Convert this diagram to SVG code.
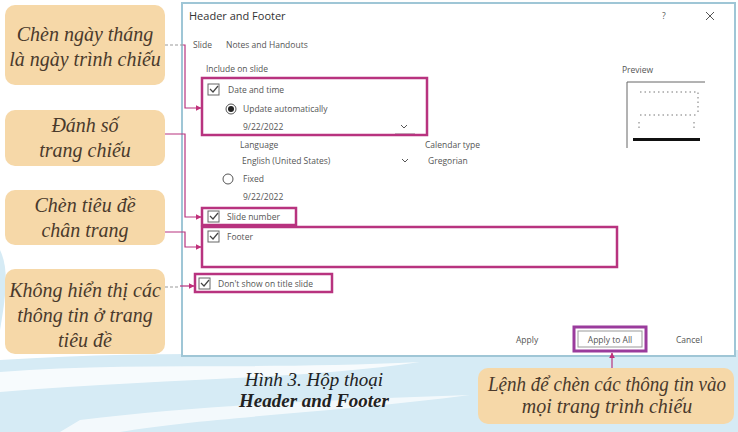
<svg xmlns="http://www.w3.org/2000/svg" width="738" height="432" viewBox="0 0 738 432">
<defs>
<style>
.co{fill:#f6d8a8;}
.ct{font-family:"Liberation Serif",serif;font-style:italic;font-size:20px;fill:#4a3a2c;text-anchor:middle;}
.ui{font-family:"Open Sans","Liberation Sans",sans-serif;font-size:8.5px;fill:#555;}
.hl{fill:none;stroke:#b8337f;stroke-width:2.5;}
.cb{fill:#fff;stroke:#666;stroke-width:1;}
.ck{fill:none;stroke:#444;stroke-width:1.2;}
.cn{fill:none;stroke:#b8337f;stroke-width:1.2;}
.dash{fill:none;stroke:#999;stroke-width:1;stroke-dasharray:3 2;}
.cap{font-family:"Liberation Serif",serif;font-style:italic;font-size:19px;fill:#222;text-anchor:middle;}
</style>
<marker id="ar" viewBox="0 0 10 10" refX="9" refY="5" markerWidth="5" markerHeight="5" orient="auto">
<path d="M0,0 L10,5 L0,10 z" fill="#c0307a"/>
</marker>
</defs>
<rect width="738" height="432" fill="#fff"/>
<g id="background">
<path d="M0,360 C150,350 300,356 460,352 L738,350 L738,432 L0,432 Z" fill="#d6ebf5"/>
<path d="M0,372 C120,362 260,370 420,362 C300,380 160,378 0,392 Z" fill="#fff" opacity="0.8"/>
<path d="M80,420 C200,405 330,400 470,395 C340,412 200,418 120,432 L60,432 Z" fill="#fff" opacity="0.7"/>
<path d="M0,250 C10,270 5,300 0,330 Z" fill="#d6ebf5"/>
</g>
<g id="dialog">
<rect x="182" y="3" width="553" height="353" fill="#fff" stroke="#9fc6d6" stroke-width="2"/>
<text x="189" y="20" font-family="'Open Sans','Liberation Sans',sans-serif" font-size="11" fill="#333">Header and Footer</text>
<text x="662" y="19" class="ui" font-size="10">?</text>
<path d="M706,12 L714,20 M714,12 L706,20" stroke="#555" stroke-width="1"/>
<text x="193" y="48" class="ui" font-size="7">Slide</text>
<text x="226" y="48" class="ui">Notes and Handouts</text>
<text x="206" y="72" class="ui" font-size="7.5">Include on slide</text>
<rect x="208" y="84" width="11" height="11" class="cb"/><path d="M210,89 L213,92 L218,86" class="ck"/>
<text x="228" y="93" class="ui">Date and time</text>
<circle cx="231" cy="109" r="5" fill="#fff" stroke="#555"/><circle cx="231" cy="109" r="3" fill="#222"/>
<text x="243" y="112" class="ui">Update automatically</text>
<text x="243" y="130" class="ui">9/22/2022</text>
<path d="M401,125 L404,128 L407,125" stroke="#555" fill="none" stroke-width="1"/>
<line x1="395" y1="134" x2="415" y2="134" stroke="#888" stroke-width="1"/>
<text x="240" y="148" class="ui" font-size="8">Language</text>
<text x="425" y="148" class="ui" font-size="8">Calendar type</text>
<text x="242" y="164" class="ui">English (United States)</text>
<path d="M402,159 L405,162 L408,159" stroke="#555" fill="none" stroke-width="1"/>
<text x="428" y="164" class="ui">Gregorian</text>
<circle cx="228" cy="179" r="5" fill="#fff" stroke="#555"/>
<text x="243" y="182" class="ui">Fixed</text>
<text x="243" y="200" class="ui">9/22/2022</text>
<rect x="208" y="211" width="11" height="11" class="cb"/><path d="M210,216 L213,219 L218,213" class="ck"/>
<text x="227" y="220" class="ui">Slide number</text>
<rect x="208" y="231" width="11" height="11" class="cb"/><path d="M210,236 L213,239 L218,233" class="ck"/>
<text x="227" y="240" class="ui">Footer</text>
<rect x="199" y="278" width="11" height="11" class="cb"/><path d="M201,283 L204,286 L209,280" class="ck"/>
<text x="218" y="287" class="ui">Don't show on title slide</text>
<text x="622" y="73" class="ui" font-size="7.5">Preview</text>
<path d="M627,148 L627,82 L705,82" fill="none" stroke="#666" stroke-width="1"/>
<path d="M640,92 L698,92 L698,114 M640,115 L697,115" fill="none" stroke="#777" stroke-width="1" stroke-dasharray="1.5 3"/>
<path d="M639,122 L639,130 M694,122 L694,130" fill="none" stroke="#777" stroke-width="1" stroke-dasharray="1.5 3"/>
<rect x="633" y="138" width="67" height="3" fill="#111"/>
<text x="516" y="343" class="ui">Apply</text>
<text x="676" y="343" class="ui">Cancel</text>
</g>
<g id="highlights">
<rect x="202" y="78" width="225" height="57" class="hl"/>
<rect x="202" y="208" width="94" height="17" class="hl"/>
<rect x="202" y="227" width="415" height="40" class="hl"/>
<rect x="195" y="274" width="137" height="18" class="hl"/>
</g>
<g id="applyall">
<rect x="574" y="327" width="72" height="24" fill="#fff" stroke="#9a3b9c" stroke-width="3"/>
<rect x="578" y="331" width="64" height="16" fill="#fff" stroke="#999" stroke-width="1"/>
<text x="610" y="342.5" class="ui" text-anchor="middle" fill="#333">Apply to All</text>
</g>
<g id="connectors">
<path d="M165,45 L183,45" class="dash"/>
<path d="M183,45 L185,45 L185,108 L201,108" class="cn" marker-end="url(#ar)"/>
<path d="M165,134 L185,134 L185,217 L201,217" class="cn" marker-end="url(#ar)"/>
<path d="M165,232 L185,232 L185,247 L201,247" class="cn" marker-end="url(#ar)"/>
<path d="M165,287 L180,287" class="dash"/>
<path d="M180,286 L194,286" class="cn" marker-end="url(#ar)"/>
<path d="M612,368 L612,353" class="cn" marker-end="url(#ar)"/>
</g>
<g id="callout1">
<rect x="5" y="5" width="160" height="80" rx="10" class="co"/>
<text x="85" y="41" class="ct">Chèn ngày tháng</text>
<text x="85" y="66" class="ct">là ngày trình chiếu</text>
</g>
<g id="callout2">
<rect x="5" y="110" width="160" height="56" rx="10" class="co"/>
<text x="85" y="132" class="ct">Đánh số</text>
<text x="85" y="157" class="ct">trang chiếu</text>
</g>
<g id="callout3">
<rect x="5" y="190" width="160" height="55" rx="10" class="co"/>
<text x="85" y="212" class="ct">Chèn tiêu đề</text>
<text x="85" y="237" class="ct">chân trang</text>
</g>
<g id="callout4">
<rect x="5" y="269" width="160" height="85" rx="10" class="co"/>
<text x="85" y="297" class="ct">Không hiển thị các</text>
<text x="85" y="322" class="ct">thông tin ở trang</text>
<text x="85" y="347" class="ct">tiêu đề</text>
</g>
<g id="callout5">
<rect x="478" y="368" width="256" height="56" rx="10" class="co"/>
<text x="607" y="391" class="ct" font-size="19" textLength="238" lengthAdjust="spacingAndGlyphs">Lệnh để chèn các thông tin vào</text>
<text x="607" y="413" class="ct" font-size="19">mọi trang trình chiếu</text>
</g>
<g id="caption">
<text x="314" y="386" class="cap">Hình 3. Hộp thoại</text>
<text x="314" y="407" class="cap" font-weight="bold">Header and Footer</text>
</g>
</svg>
